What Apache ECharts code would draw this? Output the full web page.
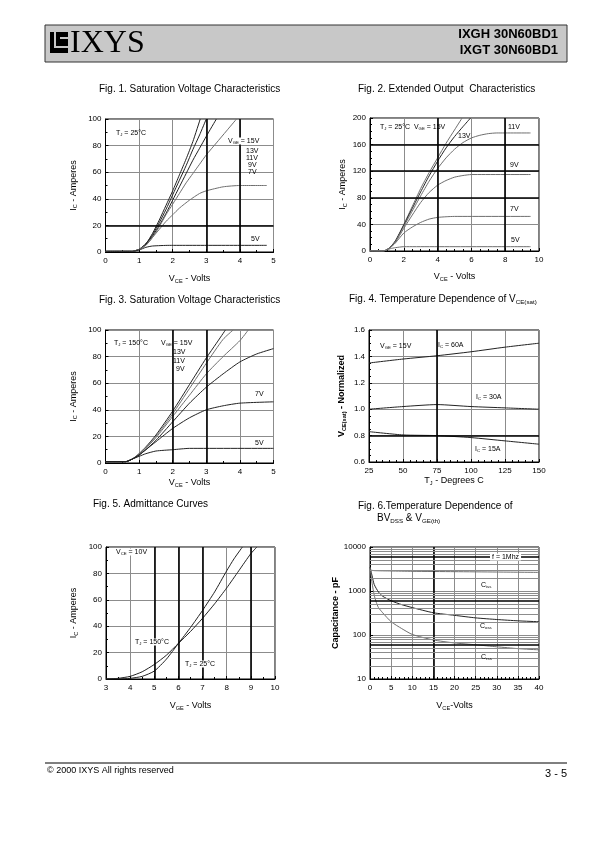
<!DOCTYPE html>
<html><head><meta charset="utf-8">
<script src="https://cdn.jsdelivr.net/npm/echarts@6/dist/echarts.min.js"></script>
<style>html,body{margin:0;padding:0;background:#fff}#c{width:595px;height:842px}</style>
</head><body><div id="c"></div>
<script>
// ---------------- DATA ----------------
// Fig 1: IC vs VCE, TJ = 25°C
const fig1_15V = [[0,0.5],[0.8,0.5],[1,2],[1.2,6],[1.4,14],[1.6,24],[1.8,35],[2,46],[2.2,58],[2.4,70],[2.6,83],[2.82,100]];
const fig1_13V = [[0,0.5],[0.8,0.5],[1,2],[1.2,6],[1.4,13],[1.6,22],[1.8,32],[2,43],[2.2,54],[2.4,65],[2.6,77],[2.8,88],[3.0,100]];
const fig1_11V = [[0,0.5],[0.8,0.5],[1,2],[1.2,6],[1.4,12],[1.6,20],[1.8,29],[2,39],[2.2,49],[2.4,59],[2.6,69],[2.8,78],[3.0,87],[3.3,100]];
const fig1_9V  = [[0,0.5],[0.8,0.5],[1,2],[1.2,5],[1.4,11],[1.6,19],[1.8,28],[2,36],[2.2,44],[2.4,52],[2.6,59],[2.8,66],[3,73],[3.3,82],[3.6,91],[3.9,100]];
const fig1_7V  = [[0,0.5],[0.8,0.5],[1,2],[1.2,5],[1.4,11],[1.6,17],[1.8,23],[2,28],[2.2,33],[2.5,39],[2.8,44],[3,46],[3.5,49],[4,50],[4.8,50]];
const fig1_5V  = [[0,0.5],[0.8,0.5],[1,1.5],[1.2,3.5],[1.4,4.5],[1.9,5],[4.8,5]];
// Fig 2: extended output, TJ = 25°C
const fig2_15V = [[0,0],[0.8,0],[1,2],[1.2,6],[1.5,15],[2,40],[2.5,67],[3,94],[3.5,118],[4,140],[4.5,162],[5,182],[5.45,200]];
const fig2_13V = [[0,0],[0.8,0],[1,2],[1.2,6],[1.5,15],[2,39],[2.5,64],[3,89],[3.5,113],[4,135],[4.5,155],[5,172],[5.5,187],[5.95,200]];
const fig2_11V = [[0,0],[0.8,0],[1,2],[1.2,6],[1.5,14],[2,37],[2.5,60],[3,83],[3.5,105],[4,124],[4.5,140],[5,153],[5.5,163],[6,170],[6.5,174],[7,176.5],[7.5,177.5],[9.5,177.5]];
const fig2_9V  = [[0,0],[0.8,0],[1,2],[1.2,5],[1.5,13],[2,34],[2.5,54],[3,73],[3.5,88],[4,99],[4.5,106],[5,111],[5.5,113.5],[6,115],[9.5,115]];
const fig2_7V  = [[0,0],[0.8,0],[1,2],[1.2,5],[1.5,12],[2,27],[2.5,36],[3,43],[3.5,48],[4,50.5],[4.5,51.5],[5,52],[9.5,52]];
const fig2_5V  = [[0,0],[0.8,0],[1,1.5],[1.2,3.5],[1.5,5],[2,6.5],[9.5,6.5]];
// Fig 3: IC vs VCE, TJ = 150°C
const fig3_15V = [[0,1],[0.6,1],[0.8,3],[1,7],[1.2,12],[1.5,21],[2,39],[2.5,59],[3,79],[3.3,90],[3.57,100]];
const fig3_13V = [[0,1],[0.6,1],[0.8,3],[1,7],[1.2,12],[1.5,20],[2,37],[2.5,56],[3,75],[3.5,93],[3.8,100]];
const fig3_11V = [[0,1],[0.6,1],[0.8,3],[1,6],[1.2,11],[1.5,19],[2,35],[2.5,51],[3,67],[3.5,80],[4,92],[4.25,100]];
const fig3_9V  = [[0,1],[0.6,1],[0.8,3],[1,6],[1.2,10],[1.5,17],[2,31],[2.5,45],[3,57],[3.5,67],[4,76],[4.5,82],[5,86]];
const fig3_7V  = [[0,1],[0.6,1],[0.8,3],[1,6],[1.2,10],[1.5,16],[2,26],[2.5,34],[3,40],[3.5,43],[4,45],[5,46]];
const fig3_5V  = [[0,1],[0.6,1],[0.8,3],[1,5],[1.2,7],[1.5,9],[2,10],[2.5,11],[5,11]];
// Fig 4: VCE(sat) normalized vs TJ
const fig4_60A = [[25,1.35],[50,1.38],[75,1.405],[100,1.435],[125,1.47],[150,1.50]];
const fig4_30A = [[25,1.00],[50,1.02],[75,1.035],[100,1.02],[125,1.01],[150,1.00]];
const fig4_15A = [[25,0.83],[50,0.805],[75,0.80],[100,0.785],[125,0.76],[150,0.735]];
// Fig 5: admittance, VCE = 10V
const fig5_150C = [[3,0],[3.5,0.5],[4,2],[4.5,5.5],[5,11],[5.5,18],[6,27],[6.5,36],[7,46],[7.5,57],[8,69],[8.5,82],[9,95],[9.25,100]];
const fig5_25C  = [[3,0],[3.5,0],[4,0.5],[4.5,2],[5,6],[5.5,15],[6,27],[6.5,39],[7,52],[7.5,66],[8,82],[8.3,91],[8.65,100]];
// Fig 6: capacitance vs VCE, f = 1 MHz
const fig6_Ciss = [[0,3000],[1,2900],[5,2850],[10,2800],[20,2750],[30,2700],[40,2650]];
const fig6_Coss = [[0,3500],[0.5,2200],[1,1400],[2,950],[3,760],[5,600],[7.5,490],[10,420],[15,320],[20,280],[25,245],[30,225],[35,210],[40,200]];
const fig6_Crss = [[0,3500],[0.5,1500],[1,800],[1.5,550],[2,420],[3,320],[5,200],[7.5,140],[10,103],[15,77],[20,66],[25,60],[30,54],[35,49],[40,46]];
const fig6_logMinor = [20,30,40,50,70,80,90,200,300,400,500,700,800,900,2000,3000,4000,5000,7000,8000,9000];
const fig6_logBold = [60,600,6000];

// ---------------- BUILD ----------------
const FONT = '"Liberation Sans", Arial, Helvetica, sans-serif';
function R(sz, bold){
  return {
    n:{fontSize:sz, fontFamily:FONT, color:'#000', fontWeight: bold?'bold':'normal'},
    s:{fontSize:Math.round(sz*0.62*10)/10, fontFamily:FONT, color:'#000', verticalAlign:'bottom', padding:[Math.round(sz*0.45),0,0,0], fontWeight: bold?'bold':'normal'}
  };
}
const grids=[], xAxes=[], yAxes=[], series=[];
const DARK='#222', GRAY='#6e6e6e';
function fig(o){
  const i = grids.length;
  grids.push({left:o.left, top:o.top, width:o.w, height:o.h, show:true, borderColor:'#000', borderWidth:1});
  xAxes.push({gridIndex:i, type:'value', min:o.xmin, max:o.xmax, interval:o.xint,
    name:o.xname, nameLocation:'middle', nameGap:o.xgap,
    nameTextStyle:{rich:R(9,o.xbold)},
    axisLine:{show:true, lineStyle:{color:'#000', width:1}},
    axisTick:{show:true, inside:true, length:3, lineStyle:{color:'#000'}},
    minorTick:{show:true, splitNumber:o.xminor, length:2, lineStyle:{color:'#000'}},
    axisLabel:{fontSize:8, color:'#000', fontFamily:FONT, margin:5, formatter:o.xfmt},
    splitLine:{show:true, lineStyle:{color:'#8c8c8c', width:1}}});
  yAxes.push({gridIndex:i, type:o.ylog?'log':'value', logBase:10, min:o.ymin, max:o.ymax, interval:o.ylog?undefined:o.yint,
    name:o.yname, nameLocation:'middle', nameGap:o.ygap, nameRotate:90,
    nameTextStyle:{rich:R(9,o.ybold)},
    axisLine:{show:true, lineStyle:{color:'#000', width:1}},
    axisTick:{show:true, inside:true, length:3, lineStyle:{color:'#000'}},
    minorTick:{show:!o.ylog, splitNumber:o.yminor||2, length:2, lineStyle:{color:'#000'}},
    axisLabel:{fontSize:8, color:'#000', fontFamily:FONT, margin:4, formatter:o.yfmt},
    splitLine:{show:true, lineStyle:{color:'#8c8c8c', width:1}}});
  o.curves.forEach(c=>{
    series.push({type:'line', xAxisIndex:i, yAxisIndex:i, data:c.d, showSymbol:false, symbol:'none',
      smooth:0.2, lineStyle:{color:c.c||DARK, width:1}, silent:true, z:3});
  });
  const ml=[];
  (o.boldX||[]).forEach(v=>ml.push({xAxis:v}));
  (o.boldY||[]).forEach(v=>ml.push({yAxis:v}));
  if(ml.length) series.push({type:'line', xAxisIndex:i, yAxisIndex:i, data:[], silent:true, z:2,
    markLine:{silent:true, symbol:['none','none'], label:{show:false}, animation:false,
      lineStyle:{color:'#000', width:1.6, type:'solid'}, data:ml}});
  if(o.minorY) series.push({type:'line', xAxisIndex:i, yAxisIndex:i, data:[], silent:true, z:1,
    markLine:{silent:true, symbol:['none','none'], label:{show:false}, animation:false,
      lineStyle:{color:'#8c8c8c', width:1, type:'solid'}, data:o.minorY.map(v=>({yAxis:v}))}});
}

fig({left:105.5, top:119, w:168, h:133, xmin:0, xmax:5, xint:1, xminor:2, ymin:0, ymax:100, yint:20, yminor:2,
  xname:'{n|V}{s|CE}{n| - Volts}', xgap:22, yname:'{n|I}{s|C}{n| - Amperes}', ygap:27,
  boldX:[3,4], boldY:[20],
  curves:[{d:fig1_15V},{d:fig1_13V},{d:fig1_11V},{d:fig1_9V,c:GRAY},{d:fig1_7V,c:GRAY},{d:fig1_5V}]});
fig({left:370, top:118, w:169, h:133, xmin:0, xmax:10, xint:2, xminor:4, ymin:0, ymax:200, yint:40, yminor:4,
  xname:'{n|V}{s|CE}{n| - Volts}', xgap:21, yname:'{n|I}{s|C}{n| - Amperes}', ygap:22,
  boldX:[4,8], boldY:[80,120,160],
  curves:[{d:fig2_15V,c:GRAY},{d:fig2_13V},{d:fig2_11V,c:GRAY},{d:fig2_9V,c:GRAY},{d:fig2_7V,c:GRAY},{d:fig2_5V,c:GRAY}]});
fig({left:105.5, top:330, w:168, h:133, xmin:0, xmax:5, xint:1, xminor:2, ymin:0, ymax:100, yint:20, yminor:2,
  xname:'{n|V}{s|CE}{n| - Volts}', xgap:15, yname:'{n|I}{s|C}{n| - Amperes}', ygap:27,
  boldX:[2,3], boldY:[],
  curves:[{d:fig3_15V},{d:fig3_13V,c:GRAY},{d:fig3_11V,c:GRAY},{d:fig3_9V},{d:fig3_7V},{d:fig3_5V}]});
fig({left:369, top:330, w:170, h:132, xmin:25, xmax:150, xint:25, xminor:5, ymin:0.6, ymax:1.6, yint:0.2, yminor:4,
  xname:'{n|T}{s|J}{n| - Degrees C}', xgap:14, yname:'{n|V}{s|CE(sat)}{n| - Normalized}', ygap:22, ybold:true,
  yfmt:v=>v.toFixed(1),
  boldX:[75], boldY:[0.8],
  curves:[{d:fig4_60A},{d:fig4_30A},{d:fig4_15A}]});
fig({left:106, top:547, w:169, h:132, xmin:3, xmax:10, xint:1, xminor:2, ymin:0, ymax:100, yint:20, yminor:2,
  xname:'{n|V}{s|GE}{n| - Volts}', xgap:22, yname:'{n|I}{s|C}{n| - Amperes}', ygap:27,
  boldX:[5,6,7,9], boldY:[],
  curves:[{d:fig5_150C},{d:fig5_25C}]});
fig({left:370, top:547, w:169, h:132, xmin:0, xmax:40, xint:5, xminor:5, ymin:10, ymax:10000, ylog:true,
  xname:'{n|V}{s|CE}{n|-Volts}', xgap:22, yname:'Capacitance - pF', ygap:30, ybold:true,
  yfmt:v=>String(Math.round(v)),
  boldX:[15], boldY:fig6_logBold, minorY:fig6_logMinor,
  curves:[{d:fig6_Ciss,c:GRAY},{d:fig6_Coss},{d:fig6_Crss,c:GRAY}]});
yAxes[5].nameTextStyle = {fontSize:9, fontWeight:'bold', fontFamily:FONT, color:'#000'};

// titles
const T = (txt, left, top) => ({text:txt, left:left, top:top, padding:0,
  textStyle:{fontSize:10, fontWeight:'normal', fontFamily:FONT, color:'#000', rich:R(10)}});
const titles = [
  T('Fig. 1. Saturation Voltage Characteristics', 99, 84),
  T('Fig. 2. Extended Output  Characteristics', 358, 84),
  T('Fig. 3. Saturation Voltage Characteristics', 99, 295),
  T('{n|Fig. 4. Temperature Dependence of V}{s|CE(sat)}', 349, 294),
  T('Fig. 5. Admittance Curves', 93, 499),
  T('Fig. 6.Temperature Dependence of', 358, 501),
  T('{n|BV}{s|DSS}{n| & V}{s|GE(th)}', 377, 513)
];

// annotations
function A(txt, x, y, opt){
  opt = opt||{};
  return {type:'text', x:x, y:y, z:50, silent:true,
    style:{text:txt, rich:R(opt.sz||7), fill:'#000', align:opt.align||'left', verticalAlign:'middle',
      backgroundColor:opt.bg, padding:opt.bg?[0,2,0,2]:0}};
}
const ann = [
  A('{n|T}{s|J}{n| = 25°C}',116,133),
  A('{n|V}{s|GE}{n| = 15V}',226,141,{bg:'#fff'}),
  A('{n|13V}',246,151),A('{n|11V}',246,158),A('{n|9V}',248,165),A('{n|7V}',248,172),
  A('{n|5V}',251,239),
  A('{n|T}{s|J}{n| = 25°C  V}{s|GE}{n| = 15V}',380,127),
  A('{n|13V}',458,136),A('{n|11V}',508,127),A('{n|9V}',510,165),A('{n|7V}',510,209),A('{n|5V}',511,240),
  A('{n|T}{s|J}{n| = 150°C}',114,343),
  A('{n|V}{s|GE}{n| = 15V}',161,343),
  A('{n|13V}',173,352),A('{n|11V}',173,361),A('{n|9V}',176,369),
  A('{n|7V}',255,394),A('{n|5V}',255,443),
  A('{n|V}{s|GE}{n| = 15V}',380,346),
  A('{n|I}{s|C}{n| = 60A}',438,345),
  A('{n|I}{s|C}{n| = 30A}',476,397),
  A('{n|I}{s|C}{n| = 15A}',475,449),
  A('{n|V}{s|CE}{n| = 10V}',114,552,{bg:'#fff'}),
  A('{n|T}{s|J}{n| = 150°C}',133,642,{bg:'#fff'}),
  A('{n|T}{s|J}{n| = 25°C}',183,664,{bg:'#fff'}),
  A('{n|f = 1Mhz}',490,557,{bg:'#fff'}),
  A('{n|C}{s|iss}',481,585),
  A('{n|C}{s|oss}',480,626),
  A('{n|C}{s|rss}',481,657)
];

// header / footer
const page = [
  {type:'rect', shape:{x:45,y:25,width:522,height:37}, style:{fill:'#c8c8c8', stroke:'#333', lineWidth:1}, silent:true},
  {type:'rect', shape:{x:50,y:32,width:18,height:21}, style:{fill:'#000'}, silent:true},
  {type:'polyline', shape:{points:[[55,32],[55,47],[68,47]]}, style:{stroke:'#c8c8c8', lineWidth:2, fill:null}, silent:true},
  {type:'polyline', shape:{points:[[60,38],[68,38]]}, style:{stroke:'#c8c8c8', lineWidth:2, fill:null}, silent:true},
  {type:'text', x:70, y:44, style:{text:'IXYS', font:'32px "Liberation Serif", "Times New Roman", serif', fill:'#000', verticalAlign:'middle'}, silent:true},
  {type:'text', x:558, y:34, style:{text:'IXGH 30N60BD1', font:'bold 13px '+FONT, fill:'#000', align:'right', verticalAlign:'middle'}, silent:true},
  {type:'text', x:558, y:50, style:{text:'IXGT 30N60BD1', font:'bold 13px '+FONT, fill:'#000', align:'right', verticalAlign:'middle'}, silent:true},
  {type:'line', shape:{x1:45,y1:763,x2:567,y2:763}, style:{stroke:'#000', lineWidth:1}, silent:true},
  {type:'text', x:47, y:771, style:{text:'© 2000 IXYS All rights reserved', font:'9px '+FONT, fill:'#000', verticalAlign:'middle'}, silent:true},
  {type:'text', x:567, y:774, style:{text:'3 - 5', font:'11px '+FONT, fill:'#000', align:'right', verticalAlign:'middle'}, silent:true}
];

const chart = echarts.init(document.getElementById('c'), null, {renderer:'canvas'});
chart.setOption({
  animation:false, backgroundColor:'#fff',
  title:titles, grid:grids, xAxis:xAxes, yAxis:yAxes, series:series,
  graphic:page.concat(ann)
});
</script></body></html>
